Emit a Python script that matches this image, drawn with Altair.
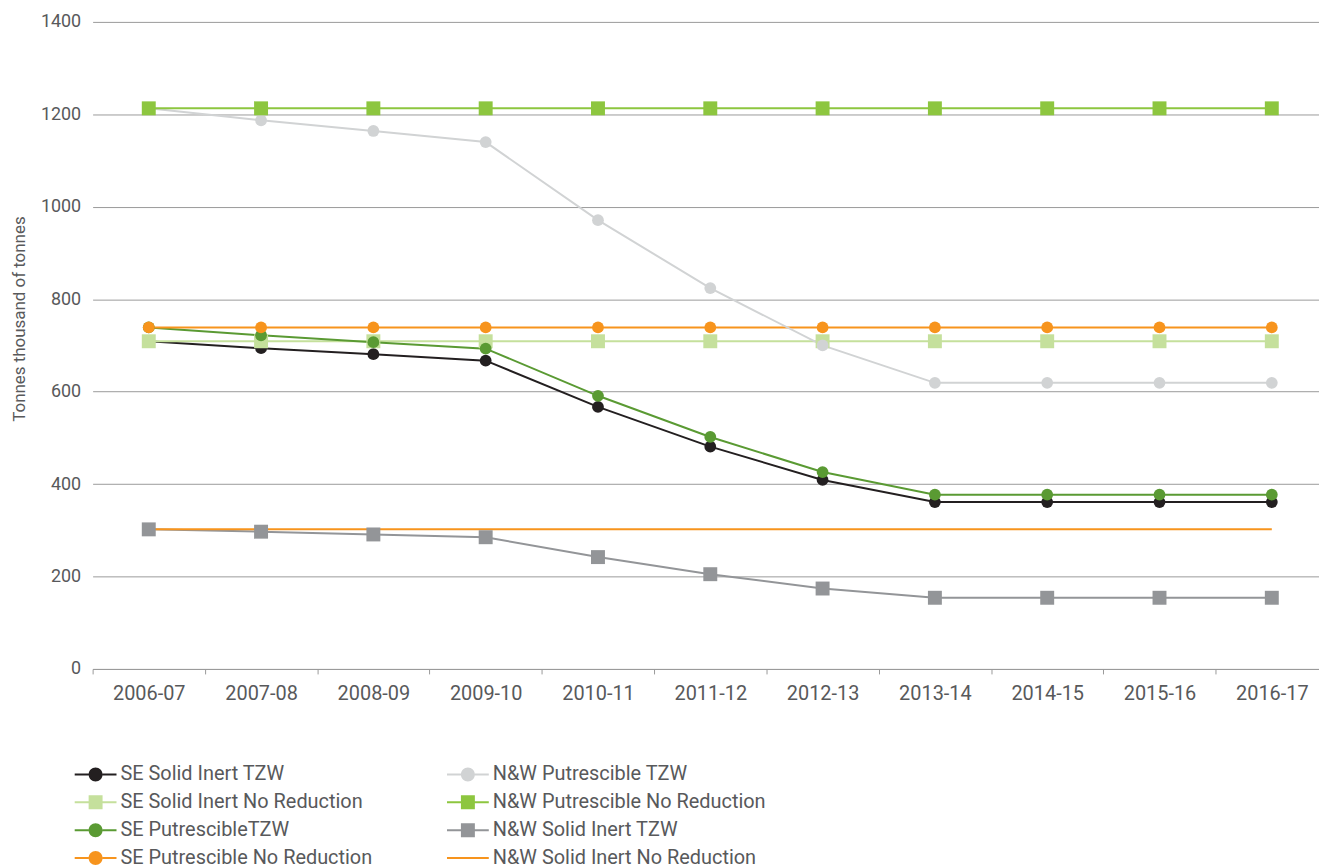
import altair as alt
import pandas as pd

# ---------------- data ----------------
categories = ["2006-07", "2007-08", "2008-09", "2009-10", "2010-11", "2011-12",
              "2012-13", "2013-14", "2014-15", "2015-16", "2016-17"]

se_solid_inert_tzw = [709, 694, 681, 667, 567, 481, 409, 361, 361, 361, 361]
se_solid_inert_no_reduction = [709, 709, 709, 709, 709, 709, 709, 709, 709, 709, 709]
se_putrescible_tzw = [739, 722, 707, 693, 591, 502, 426, 377, 377, 377, 377]
se_putrescible_no_reduction = [739, 739, 739, 739, 739, 739, 739, 739, 739, 739, 739]
nw_putrescible_tzw = [1213, 1187, 1164, 1140, 971, 824, 700, 619, 619, 619, 619]
nw_putrescible_no_reduction = [1213, 1213, 1213, 1213, 1213, 1213, 1213, 1213, 1213, 1213, 1213]
nw_solid_inert_tzw = [302, 297, 291, 285, 242, 205, 174, 154, 154, 154, 154]
nw_solid_inert_no_reduction = [302, 302, 302, 302, 302, 302, 302, 302, 302, 302, 302]

series_names = [
    "SE Solid Inert TZW",
    "SE Solid Inert No Reduction",
    "SE PutrescibleTZW",
    "SE Putrescible No Reduction",
    "N&W Putrescible TZW",
    "N&W Putrescible No Reduction",
    "N&W Solid Inert TZW",
    "N&W Solid Inert No Reduction",
]
series_values = [
    se_solid_inert_tzw, se_solid_inert_no_reduction, se_putrescible_tzw,
    se_putrescible_no_reduction, nw_putrescible_tzw, nw_putrescible_no_reduction,
    nw_solid_inert_tzw, nw_solid_inert_no_reduction,
]

# ---------------- styles ----------------
colors = {
    "SE Solid Inert TZW": "#231f20",
    "SE Solid Inert No Reduction": "#c5e09c",
    "SE PutrescibleTZW": "#5a9a33",
    "SE Putrescible No Reduction": "#f7941d",
    "N&W Putrescible TZW": "#d1d3d4",
    "N&W Putrescible No Reduction": "#8dc63f",
    "N&W Solid Inert TZW": "#939598",
    "N&W Solid Inert No Reduction": "#f7941d",
}
markers = {
    "SE Solid Inert TZW": "circle",
    "SE Solid Inert No Reduction": "square",
    "SE PutrescibleTZW": "circle",
    "SE Putrescible No Reduction": "circle",
    "N&W Putrescible TZW": "circle",
    "N&W Putrescible No Reduction": "square",
    "N&W Solid Inert TZW": "square",
    "N&W Solid Inert No Reduction": "none",
}
marker_size = {"circle": 140, "square": 196, "none": 0}

# legend symbols (unit = 14px): a line segment with the series' marker in its middle
LINE_L = "M-1,-0.07L0,-0.07L0,0.07L-1,0.07Z M1,-0.07L2,-0.07L2,0.07L1,0.07Z "
CIRC = LINE_L + "M0,0A0.5,0.5 0 1,1 1,0A0.5,0.5 0 1,1 0,0Z"
SQ = LINE_L + "M0,-0.5L1,-0.5L1,0.5L0,0.5Z"
LINE = "M-1,-0.07L2,-0.07L2,0.07L-1,0.07Z"
legend_paths = {"circle": CIRC, "square": SQ, "none": LINE}

rows = []
for z, (name, vals) in enumerate(zip(series_names, series_values)):
    for cat, v in zip(categories, vals):
        rows.append({"period": cat, "series": name, "value": v, "z": z})
df = pd.DataFrame(rows)
df["marker"] = df["series"].map(markers)
df["msize"] = df["marker"].map(marker_size)

color_scale = alt.Scale(domain=series_names, range=[colors[s] for s in series_names])
shape_scale = alt.Scale(domain=series_names,
                        range=[legend_paths[markers[s]] for s in series_names])

FONT = "Roboto"
TXT = "#58595b"

x_enc = alt.X(
    "period:N",
    sort=categories,
    scale=alt.Scale(type="band", paddingInner=0, paddingOuter=0),
    axis=alt.Axis(title=None, tickBand="extent", labelAngle=0, labelFont=FONT,
                  labelFontSize=20, labelColor=TXT, labelPadding=10, tickSize=5,
                  tickColor="#999999", domainColor="#999999", grid=False),
)
y_enc = alt.Y(
    "value:Q",
    scale=alt.Scale(domain=[0, 1400], nice=False),
    axis=alt.Axis(title="Tonnes thousand of tonnes", format="d",
                  values=[0, 200, 400, 600, 800, 1000, 1200, 1400],
                  domain=False, ticks=False, labelFont=FONT, labelFontSize=18,
                  labelColor=TXT, labelPadding=12, gridColor="#9a9a9a", gridWidth=1,
                  titleFont=FONT, titleFontSize=17, titleFontWeight="normal",
                  titleColor=TXT, titlePadding=12, titleY=298),
)

legend_props = dict(
    title=None, orient="none", legendX=-18, legendY=742, columns=2,
    columnPadding=74, rowPadding=4, symbolSize=784, symbolStrokeWidth=0,
    symbolOpacity=1,
    labelFont=FONT, labelFontSize=20, labelColor=TXT, labelLimit=400, labelOffset=18,
)

base = alt.Chart(df)

# legend-only layer (first, so its enabled legend wins the merge); draws no marks
legend_layer = base.transform_filter("false").mark_point(filled=True, opacity=1).encode(
    color=alt.Color("series:N", scale=color_scale, legend=alt.Legend(**legend_props)),
    shape=alt.Shape("series:N", scale=shape_scale, legend=alt.Legend(**legend_props)),
)

lines = base.mark_line(strokeWidth=2).encode(
    x=x_enc, y=y_enc,
    color=alt.Color("series:N", scale=color_scale, legend=None),
)

points = base.transform_filter(alt.datum.marker != "none").mark_point(
    filled=True, opacity=1, strokeWidth=0
).encode(
    x=x_enc, y=y_enc,
    color=alt.Color("series:N", scale=color_scale, legend=None),
    shape=alt.Shape("marker:N", scale=None),
    size=alt.Size("msize:Q", scale=None),
    order=alt.Order("z:Q"),
)

chart = alt.layer(legend_layer, lines, points).properties(
    width=1241, height=650,
    autosize=alt.AutoSizeParams(type="none"),
    padding={"left": 85, "top": 12, "right": -9, "bottom": 198},
).configure_view(stroke=None)

chart.save("out.html", embed_options={"renderer": "svg", "actions": False})
